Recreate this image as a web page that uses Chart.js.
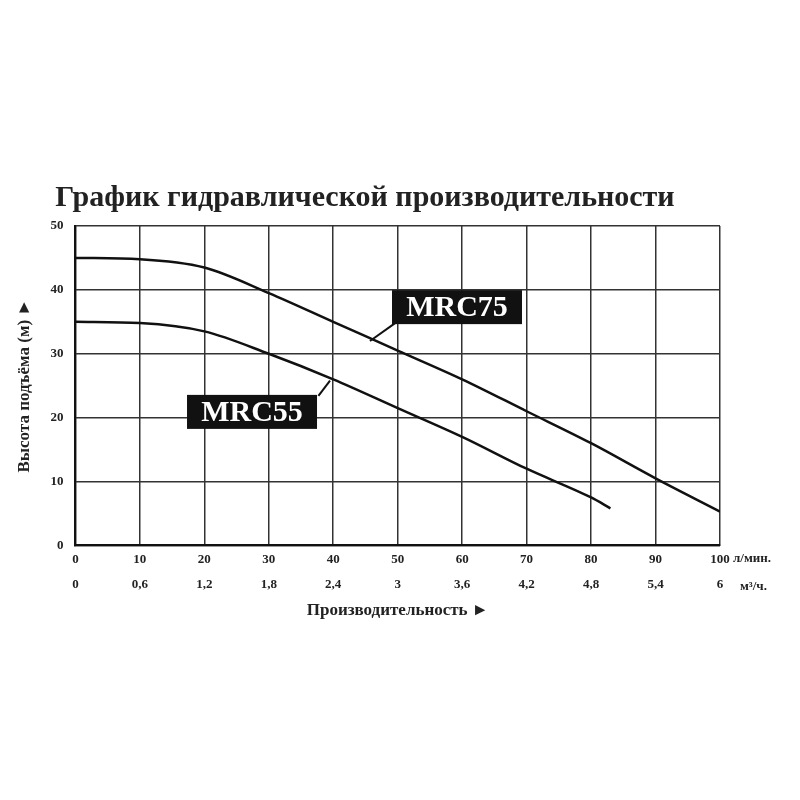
<!DOCTYPE html>
<html><head><meta charset="utf-8">
<script src="https://cdn.jsdelivr.net/npm/chart.js@4"></script>
<style>body{margin:0;background:#fff}#wrap{width:800px;height:800px}</style>
</head><body><div id="wrap"><canvas id="c" width="800" height="800"></canvas></div>
<script>
const flowLpm = [0, 10, 20, 30, 40, 50, 60, 70, 80, 90, 100];
const m3Labels = ["0", "0,6", "1,2", "1,8", "2,4", "3", "3,6", "4,2", "4,8", "5,4", "6"];
const mrc75 = [45, 44.8, 43.5, 39.5, 35, 30.5, 26, 21, 16, 10.5, 5.3];
const mrc55x = [0, 10, 20, 30, 40, 50, 60, 70, 80, 83];
const mrc55 = [35, 34.8, 33.5, 30, 26, 21.5, 17, 12, 7.5, 5.8];
const yTicks = [0, 10, 20, 30, 40, 50];

const serif = "'Liberation Serif', 'DejaVu Serif', serif";

const labelsPlugin = {
  id: "labels",
  afterDraw(chart) {
    const {ctx, scales: {x, y}} = chart;
    ctx.save();
    const tags = [
      {text: "MRC75", cx: 59.2, cy: 37.3, from: [49.6, 34.8], to: [45.7, 32]},
      {text: "MRC55", cx: 27.4, cy: 20.9, from: [37.7, 23.4], to: [39.5, 25.8]}
    ];
    ctx.font = "bold 30px " + serif;
    tags.forEach(t => {
      ctx.strokeStyle = "#111"; ctx.lineWidth = 2;
      ctx.beginPath();
      ctx.moveTo(x.getPixelForValue(t.from[0]), y.getPixelForValue(t.from[1]));
      ctx.lineTo(x.getPixelForValue(t.to[0]), y.getPixelForValue(t.to[1]));
      ctx.stroke();
      const px = x.getPixelForValue(t.cx), py = y.getPixelForValue(t.cy);
      ctx.fillStyle = "#111";
      ctx.fillRect(px - 65, py - 17, 130, 34);
      ctx.fillStyle = "#fff"; ctx.textAlign = "center"; ctx.textBaseline = "middle";
      ctx.fillText(t.text, px, py + 1);
    });
    ctx.fillStyle = "#222"; ctx.textAlign = "left"; ctx.textBaseline = "middle";
    ctx.font = "bold 13px " + serif;
    ctx.fillText("л/мин.", 733, y.bottom + 13);
    ctx.fillText("м³/ч.", 740, y.bottom + 41);
    ctx.restore();
  }
};

new Chart(document.getElementById("c"), {
  type: "line",
  data: {
    datasets: [
      {label: "MRC75", data: flowLpm.map((v, i) => ({x: v, y: mrc75[i]}))},
      {label: "MRC55", data: mrc55x.map((v, i) => ({x: v, y: mrc55[i]}))}
    ]
  },
  options: {
    responsive: false, animation: false,
    layout: {padding: {left: 10, right: 80, top: 0, bottom: 175}},
    elements: {
      line: {borderColor: "#111", borderWidth: 2.5, tension: 0.4, cubicInterpolationMode: "monotone"},
      point: {radius: 0}
    },
    plugins: {
      legend: {display: false}, tooltip: {enabled: false},
      title: {
        display: true, text: "График гидравлической производительности",
        color: "#222", font: {family: serif, size: 30, weight: "bold"},
        padding: {top: 180, bottom: 10}
      }
    },
    scales: {
      x: {
        type: "linear", min: 0, max: 100,
        border: {color: "#111", width: 2},
        grid: {color: "#333", lineWidth: 1.5, drawTicks: false},
        ticks: {stepSize: 10, color: "#222", padding: 6, font: {family: serif, size: 13, weight: "bold"}}
      },
      x2: {
        type: "linear", position: "bottom", min: 0, max: 100,
        border: {display: false}, grid: {display: false, drawTicks: false},
        ticks: {stepSize: 10, color: "#222", padding: 4, font: {family: serif, size: 13, weight: "bold"},
          callback: (v, i) => m3Labels[i]},
        title: {display: true, text: "Производительность ►", color: "#222",
          font: {family: serif, size: 17, weight: "bold"}, padding: {top: 4}}
      },
      y: {
        min: 0, max: 50,
        afterBuildTicks: s => { s.ticks = yTicks.map(v => ({value: v})); },
        border: {color: "#111", width: 2},
        grid: {color: "#333", lineWidth: 1.5, drawTicks: false},
        ticks: {color: "#222", padding: 12, font: {family: serif, size: 13, weight: "bold"}},
        title: {display: true, text: "Высота подъёма (м) ►", color: "#222",
          font: {family: serif, size: 17, weight: "bold"}}
      }
    }
  },
  plugins: [labelsPlugin]
});
</script></body></html>
